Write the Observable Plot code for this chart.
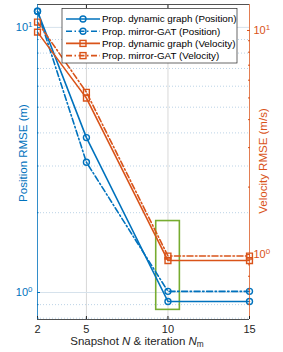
<!DOCTYPE html>
<html><head><meta charset="utf-8">
<script src="https://cdn.jsdelivr.net/npm/d3@7"></script>
<script src="https://cdn.jsdelivr.net/npm/@observablehq/plot@0.6"></script>
<style>
body{margin:0;background:#fff;}
#chart{position:relative;width:283px;height:352px;}
svg{font-family:"Liberation Sans",Arial,Helvetica,sans-serif;}
</style>
</head><body><div id="chart"></div>
<script>
// ---- data ----
const snapshots = [2, 5, 10, 15];
const posDynamic = [11.5, 3.84, 0.925, 0.925];
const posMirror = [11.5, 3.10, 1.01, 1.01];
const velDynamic = [9.83, 4.99, 0.94, 0.94];
const velMirror = [10.9, 5.30, 0.985, 0.985];
const seriesNames = ["Prop. dynamic graph (Position)", "Prop. mirror-GAT (Position)", "Prop. dynamic graph (Velocity)", "Prop. mirror-GAT (Velocity)"];
const xTicks = [2, 5, 10, 15];
const posDomain = [0.791, 12.2];
const velDomain = [0.513, 13.06];
const posMajor = [1, 10];
const posMinor = [0.8, 0.9, 2, 3, 4, 5, 6, 7, 8, 9];
const velMajor = [1, 10];
const velMinor = [0.6, 0.7, 0.8, 0.9, 2, 3, 4, 5, 6, 7, 8, 9];
const highlightX = [9.28, 10.73];
const highlightY = [0.86, 1.86];

const blue = "#0072BD", orange = "#D95319", green = "#77AC30", dark = "#262626";
const dashDot = "6,2.5,1.5,2.5";

// map velocity (right axis) onto the position (left) log scale
const L = Math.log10;
function toLeft(v) {
  const t = (L(v) - L(velDomain[0])) / (L(velDomain[1]) - L(velDomain[0]));
  return Math.pow(10, L(posDomain[0]) + t * (L(posDomain[1]) - L(posDomain[0])));
}
function fromLeft(p) {
  const t = (L(p) - L(posDomain[0])) / (L(posDomain[1]) - L(posDomain[0]));
  return Math.pow(10, L(velDomain[0]) + t * (L(velDomain[1]) - L(velDomain[0])));
}

const series = [
  {name: seriesNames[0], values: posDynamic, vel: false, color: blue, dash: null, symbol: "circle"},
  {name: seriesNames[1], values: posMirror, vel: false, color: blue, dash: dashDot, symbol: "circle"},
  {name: seriesNames[2], values: velDynamic, vel: true, color: orange, dash: null, symbol: "square"},
  {name: seriesNames[3], values: velMirror, vel: true, color: orange, dash: dashDot, symbol: "square"}
];
const rowsOf = s => snapshots.map((x, i) => ({x, y: s.vel ? toLeft(s.values[i]) : s.values[i]}));

const lineMarks = series.flatMap(s => [
  Plot.line(rowsOf(s), {x: "x", y: "y", stroke: s.color, strokeWidth: 1.6, strokeDasharray: s.dash}),
  Plot.dot(rowsOf(s), {x: "x", y: "y", stroke: s.color, strokeWidth: 1.4, fill: "none", symbol: s.symbol, r: s.symbol === "square" ? 3.3 : 3})
]);

const supFmt = d => `10^${Math.round(L(d))}`;

const plot = Plot.plot({
  width: 283, height: 352,
  marginLeft: 37, marginRight: 34, marginTop: 4, marginBottom: 33,
  style: {fontFamily: '"Liberation Sans",Arial,Helvetica,sans-serif', fontSize: "11px", background: "#fff"},
  x: {domain: [2, 15], axis: null},
  y: {type: "log", domain: posDomain, axis: null},
  marks: [
    Plot.gridX({ticks: [5, 10], stroke: "#d8d8d8", strokeOpacity: 1}),
    Plot.gridY({ticks: posMajor, stroke: "#d6e2ec", strokeOpacity: 1}),
    Plot.gridY({ticks: posMinor, stroke: "#bcd3e6", strokeOpacity: 1, strokeDasharray: "1,2"}),
    Plot.rect([{x1: highlightX[0], x2: highlightX[1], y1: highlightY[0], y2: highlightY[1]}],
      {x1: "x1", x2: "x2", y1: "y1", y2: "y2", fill: "none", stroke: green, strokeWidth: 1.6}),
    ...lineMarks,
    Plot.ruleY([posDomain[0]], {stroke: dark, strokeWidth: 0.8}),
    Plot.ruleY([posDomain[1]], {stroke: dark, strokeWidth: 0.8}),
    Plot.ruleX([2], {stroke: blue, strokeWidth: 1, strokeOpacity: 0.8}),
    Plot.ruleX([15], {stroke: orange, strokeWidth: 1, strokeOpacity: 0.75}),
    // x axis
    Plot.axisX({ticks: xTicks, anchor: "bottom", tickSize: 0, tickPadding: 6, label: null, fill: dark, fontSize: 11}),
    Plot.axisX({ticks: xTicks, anchor: "bottom", tickSize: 3, dy: -3, fill: "none", stroke: dark, label: null}),
    Plot.axisX({ticks: [5, 10], anchor: "top", tickSize: 3, dy: 3, fill: "none", stroke: dark, label: null}),
    // left axis
    Plot.axisY({ticks: posMajor, anchor: "left", tickSize: 0, tickPadding: 5, tickFormat: supFmt, fill: blue, label: null, fontSize: 11}),
    Plot.axisY({ticks: posMajor, anchor: "left", tickSize: 3, dx: 3, fill: "none", stroke: blue, label: null}),
    Plot.axisY({ticks: posMinor, anchor: "left", tickSize: 1.5, dx: 1.5, fill: "none", stroke: blue, label: null}),
    // right axis
    Plot.axisY({ticks: velMajor.map(toLeft), anchor: "right", tickSize: 0, tickPadding: 4, tickFormat: d => supFmt(fromLeft(d)), fill: orange, label: null, fontSize: 11}),
    Plot.axisY({ticks: velMajor.map(toLeft), anchor: "right", tickSize: 3, dx: -3, fill: "none", stroke: orange, label: null}),
    Plot.axisY({ticks: velMinor.map(toLeft), anchor: "right", tickSize: 2, dx: -2, fill: "none", stroke: orange, label: null})
  ]
});

const svg = d3.select(plot);
// superscript tick labels
svg.selectAll("text").each(function() {
  const m = (this.textContent || "").match(/^10\^(-?\d+)$/);
  if (m) {
    const t = d3.select(this);
    t.text(null);
    t.append("tspan").text("10");
    t.append("tspan").attr("dy", "-0.5em").attr("font-size", "0.72em").text(m[1]);
  }
});

const font = '"Liberation Sans",Arial,Helvetica,sans-serif';
// x label
const xl = svg.append("text").attr("x", 137).attr("y", 345).attr("text-anchor", "middle")
  .attr("font-size", 11.5).attr("font-family", font).attr("fill", dark);
xl.append("tspan").text("Snapshot ");
xl.append("tspan").attr("font-style", "italic").text("N");
xl.append("tspan").text(" & iteration ");
xl.append("tspan").attr("font-style", "italic").text("N");
xl.append("tspan").attr("dy", "0.3em").attr("font-size", "0.72em").text("m");
// y labels
svg.append("text").attr("transform", "translate(27,153) rotate(-90)").attr("text-anchor", "middle")
  .attr("font-size", 11.5).attr("font-family", font).attr("fill", blue).text("Position RMSE (m)");
svg.append("text").attr("transform", "translate(267,161) rotate(-90)").attr("text-anchor", "middle")
  .attr("font-size", 11.5).attr("font-family", font).attr("fill", orange).text("Velocity RMSE (m/s)");

// legend
const lg = svg.append("g").attr("font-family", font).attr("font-size", 9.8).attr("text-anchor", "start");
lg.append("rect").attr("x", 62).attr("y", 8.5).attr("width", 175).attr("height", 54.5)
  .attr("fill", "#fff").attr("stroke", dark).attr("stroke-width", 0.7);
series.forEach((s, i) => {
  const yy = 19 + i * 12.2;
  lg.append("line").attr("x1", 66).attr("x2", 100).attr("y1", yy).attr("y2", yy)
    .attr("stroke", s.color).attr("stroke-width", 1.6).attr("stroke-dasharray", s.dash);
  if (s.symbol === "circle") {
    lg.append("circle").attr("cx", 83).attr("cy", yy).attr("r", 3).attr("fill", "none").attr("stroke", s.color).attr("stroke-width", 1.4);
  } else {
    lg.append("rect").attr("x", 80).attr("y", yy - 3).attr("width", 6).attr("height", 6).attr("fill", "none").attr("stroke", s.color).attr("stroke-width", 1.4);
  }
  lg.append("text").attr("x", 102).attr("y", yy).attr("dy", "0.35em").attr("text-anchor", "start").attr("fill", "#000").text(s.name);
});

document.getElementById("chart").appendChild(plot);
</script>
</body></html>
